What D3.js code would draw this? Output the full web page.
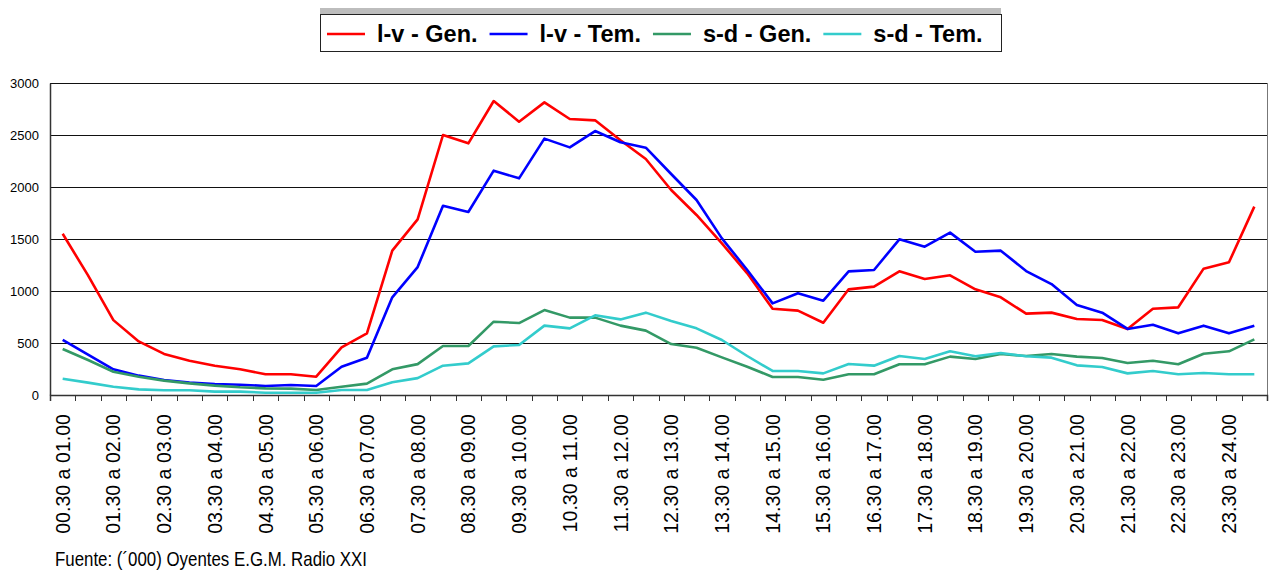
<!DOCTYPE html>
<html>
<head>
<meta charset="utf-8">
<script src="https://cdn.jsdelivr.net/npm/d3@7"></script>
<style>
  body { margin: 0; background: #fff; }
  svg { display: block; font-family: "Liberation Sans", Arial, sans-serif; }
</style>
</head>
<body>
<svg id="chart" width="1272" height="571"></svg>
<script>
// half-hour slots, only every other one gets a label
var categories = [
    "00.30 a 01.00", "01.00 a 01.30", "01.30 a 02.00", "02.00 a 02.30",
    "02.30 a 03.00", "03.00 a 03.30", "03.30 a 04.00", "04.00 a 04.30",
    "04.30 a 05.00", "05.00 a 05.30", "05.30 a 06.00", "06.00 a 06.30",
    "06.30 a 07.00", "07.00 a 07.30", "07.30 a 08.00", "08.00 a 08.30",
    "08.30 a 09.00", "09.00 a 09.30", "09.30 a 10.00", "10.00 a 10.30",
    "10.30 a 11.00", "11.00 a 11.30", "11.30 a 12.00", "12.00 a 12.30",
    "12.30 a 13.00", "13.00 a 13.30", "13.30 a 14.00", "14.00 a 14.30",
    "14.30 a 15.00", "15.00 a 15.30", "15.30 a 16.00", "16.00 a 16.30",
    "16.30 a 17.00", "17.00 a 17.30", "17.30 a 18.00", "18.00 a 18.30",
    "18.30 a 19.00", "19.00 a 19.30", "19.30 a 20.00", "20.00 a 20.30",
    "20.30 a 21.00", "21.00 a 21.30", "21.30 a 22.00", "22.00 a 22.30",
    "22.30 a 23.00", "23.00 a 23.30", "23.30 a 24.00", "24.00 a 24.30"
];

var lvGen = [1550, 1150, 720, 515, 395, 330, 282, 247, 200, 200, 176, 458, 593, 1388, 1689,
    2500, 2420, 2827, 2628, 2814, 2654, 2641, 2450, 2269, 1971, 1731, 1458, 1170, 830, 811, 695,
    1016, 1042, 1189, 1115, 1151, 1016, 939, 782, 792, 731, 721, 635, 830, 843, 1215, 1276, 1811];
var lvTem = [529, 388, 247, 186, 144, 119, 106, 99, 87, 96, 87, 272, 359, 939, 1230,
    1820, 1760, 2157, 2083, 2465, 2381, 2538, 2430, 2378, 2125, 1875, 1506, 1202, 881, 978, 907,
    1189, 1202, 1497, 1426, 1561, 1378, 1388, 1192, 1067, 865, 792, 635, 676, 593, 667, 593, 667];
var sdGen = [442, 336, 224, 176, 138, 112, 90, 74, 64, 61, 48, 80, 109, 247, 297,
    471, 471, 705, 692, 817, 744, 744, 667, 619, 490, 455, 362, 272, 173, 173, 147,
    199, 199, 295, 295, 369, 346, 394, 375, 394, 369, 356, 308, 330, 295, 397, 420, 535];
var sdTem = [157, 119, 80, 54, 45, 45, 32, 32, 22, 22, 22, 48, 48, 122, 162,
    282, 304, 468, 481, 667, 641, 766, 727, 792, 711, 641, 529, 375, 231, 231, 208,
    298, 282, 375, 346, 420, 372, 404, 372, 359, 285, 269, 208, 231, 199, 212, 199, 199];

var seriesNames = ["l-v - Gen.", "l-v - Tem.", "s-d - Gen.", "s-d - Tem."];
var seriesColors = ["#ff0000", "#0000ff", "#339966", "#33cccc"];
var yTicks = [0, 500, 1000, 1500, 2000, 2500, 3000];
var source = "Fuente: (\u00b4000) Oyentes E.G.M. Radio XXI";

var series = [lvGen, lvTem, sdGen, sdTem];

var plot = { left: 50, right: 1267, top: 83, bottom: 395 };
var svg = d3.select("#chart");

var x = d3.scaleBand().domain(categories).range([plot.left, plot.right]);
var xEdge = d3.scaleLinear().domain([0, categories.length]).range([plot.left, plot.right]);
var y = d3.scaleLinear().domain([0, 3000]).range([plot.bottom, plot.top]);

// grid lines
svg.append("g")
    .attr("transform", "translate(" + plot.left + ",0)")
    .call(d3.axisLeft(y).tickValues(yTicks).tickSize(-(plot.right - plot.left)).tickFormat(""))
    .call(function (g) {
        g.select(".domain").remove();
        g.selectAll("line").attr("stroke", "#111").attr("shape-rendering", "crispEdges");
    });

// right border of the plot
svg.append("line")
    .attr("x1", plot.right).attr("x2", plot.right)
    .attr("y1", plot.top).attr("y2", plot.bottom)
    .attr("stroke", "#777").attr("shape-rendering", "crispEdges");

// y axis
svg.append("g")
    .attr("transform", "translate(" + plot.left + ",0)")
    .call(d3.axisLeft(y).tickValues(yTicks).tickSize(0).tickPadding(11).tickFormat(d3.format("d")))
    .call(function (g) {
        g.select(".domain").attr("stroke", "#333").attr("stroke-width", 1.5);
        g.selectAll("text").style("font-size", "13px").attr("fill", "#000")
            .style("font-family", "'Liberation Sans', Arial, sans-serif");
    });

// x axis tick marks at the category edges
svg.append("g")
    .attr("transform", "translate(0," + plot.bottom + ")")
    .call(d3.axisBottom(xEdge).tickValues(d3.range(categories.length + 1)).tickSize(6).tickFormat(""))
    .call(function (g) {
        g.select(".domain").attr("stroke", "#333").attr("stroke-width", 1.5);
        g.selectAll("line").attr("stroke", "#333").attr("shape-rendering", "crispEdges");
    });

// x labels, every other category, rotated
svg.append("g")
    .attr("transform", "translate(0," + plot.bottom + ")")
    .call(d3.axisBottom(x).tickValues(categories.filter(function (d, i) { return i % 2 == 0; })).tickSize(0))
    .call(function (g) {
        g.select(".domain").remove();
        g.selectAll("text")
            .attr("y", 0)
            .attr("x", -19)
            .attr("dy", "0.36em")
            .attr("transform", "rotate(-90)")
            .style("text-anchor", "end")
            .style("font-size", "19.6px")
            .style("font-family", "'Liberation Sans', Arial, sans-serif")
            .attr("fill", "#000");
    });

// the four lines
var line = d3.line()
    .x(function (d, i) { return x(categories[i]) + x.bandwidth() / 2; })
    .y(function (d) { return y(d); });

svg.append("g")
    .selectAll("path")
    .data(series)
    .enter()
    .append("path")
    .attr("d", line)
    .attr("fill", "none")
    .attr("stroke", function (d, i) { return seriesColors[i]; })
    .attr("stroke-width", 2.6)
    .attr("stroke-linejoin", "round");

// legend
var legend = svg.append("g");
legend.append("rect")
    .attr("x", 320).attr("y", 8).attr("width", 681).attr("height", 6)
    .attr("fill", "#bdbdbd");
legend.append("rect")
    .attr("x", 320.5).attr("y", 14.5).attr("width", 681).attr("height", 37)
    .attr("fill", "#fff").attr("stroke", "#222").attr("stroke-width", 1);

var lx = 327;
for (var k = 0; k < seriesNames.length; k++) {
    legend.append("line")
        .attr("x1", lx).attr("x2", lx + 38)
        .attr("y1", 34).attr("y2", 34)
        .attr("stroke", seriesColors[k]).attr("stroke-width", 2.6);
    var t = legend.append("text")
        .attr("x", lx + 50).attr("y", 42)
        .style("font-size", "23.5px")
        .style("font-weight", "bold")
        .attr("fill", "#000")
        .text(seriesNames[k]);
    lx = lx + 50 + t.node().getComputedTextLength() + 12;
}

// source note
svg.append("text")
    .attr("x", 55).attr("y", 566)
    .attr("textLength", 312)
    .attr("lengthAdjust", "spacingAndGlyphs")
    .style("font-size", "21px")
    .attr("fill", "#000")
    .text(source);
</script>
</body>
</html>
